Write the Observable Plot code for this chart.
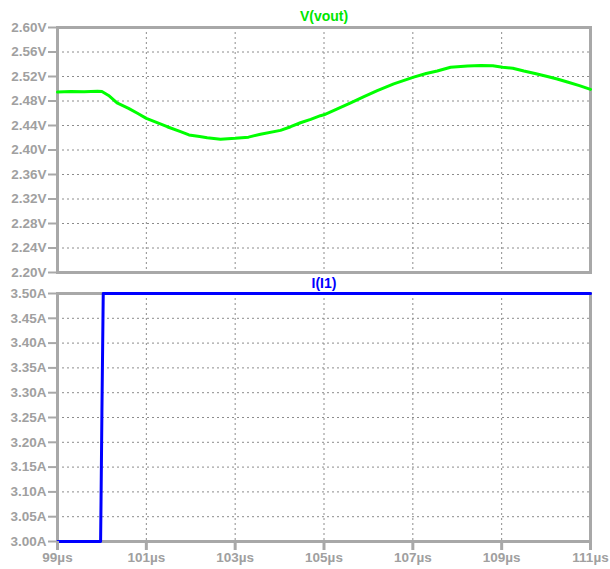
<!DOCTYPE html>
<html>
<head>
<meta charset="utf-8">
<script src="https://cdn.jsdelivr.net/npm/d3@7"></script>
<script src="https://cdn.jsdelivr.net/npm/@observablehq/plot@0.6"></script>
<style>
  html, body { margin: 0; padding: 0; background: #fff; }
  #chart { width: 610px; }
  #chart svg { display: block; }
</style>
</head>
<body>
<div id="chart"></div>
<script>
// Time axis ticks (µs)
const xTicks = [99, 101, 103, 105, 107, 109, 111];
// V(vout) series
const tV = [99.0, 99.3, 99.6, 99.9, 100.0, 100.15, 100.34, 100.6, 100.8, 101.0, 101.2, 101.47, 101.77, 101.96, 102.2, 102.37, 102.67, 103.0, 103.3, 103.57, 104.02, 104.25, 104.47, 104.7, 104.92, 105.0, 105.3, 105.6, 105.9, 106.2, 106.57, 107.02, 107.3, 107.55, 107.85, 108.23, 108.53, 108.8, 109.02, 109.25, 109.5, 109.75, 110.03, 110.25, 110.48, 110.75, 111.0];
const vV = [2.4945, 2.4955, 2.4950, 2.4960, 2.4955, 2.4890, 2.4768, 2.4680, 2.4600, 2.4516, 2.4460, 2.4380, 2.4300, 2.4246, 2.4220, 2.4200, 2.4175, 2.4190, 2.4210, 2.4258, 2.4320, 2.4380, 2.4445, 2.4500, 2.4560, 2.4575, 2.4670, 2.4770, 2.4870, 2.4970, 2.5080, 2.5190, 2.5250, 2.5290, 2.5350, 2.5370, 2.5380, 2.5375, 2.5350, 2.5335, 2.5290, 2.5250, 2.5200, 2.5160, 2.5110, 2.5050, 2.4990];
const vTicks = [2.20, 2.24, 2.28, 2.32, 2.36, 2.40, 2.44, 2.48, 2.52, 2.56, 2.60];
// I(I1) series
const tI = [99.0, 99.97, 99.98, 100.0, 100.03, 111.0];
const iI = [3.00, 3.00, 3.08, 3.26, 3.50, 3.50];
const iTicks = [3.00, 3.05, 3.10, 3.15, 3.20, 3.25, 3.30, 3.35, 3.40, 3.45, 3.50];

const vData = tV.map((t, i) => ({t, v: vV[i]}));
const iData = tI.map((t, i) => ({t, v: iI[i]}));

const axisGray = "#a8a8a8";
const textGray = "#a0a0a0";
const gridGray = "#8c8c8c";
const font = "Liberation Sans, Arial, sans-serif";

const common = {
  width: 610,
  marginLeft: 57,
  marginRight: 20,
  style: {fontFamily: font, background: "#fff", overflow: "visible"}
};

const topPlot = Plot.plot({
  ...common,
  height: 274,
  marginTop: 27,
  marginBottom: 2,
  x: {domain: [99, 111], axis: null},
  y: {domain: [2.2, 2.6], axis: null},
  marks: [
    Plot.gridX(xTicks, {stroke: gridGray, strokeOpacity: 1, strokeDasharray: "2,3"}),
    Plot.gridY(vTicks, {stroke: gridGray, strokeOpacity: 1, strokeDasharray: "2,3"}),
    Plot.frame({stroke: axisGray, strokeWidth: 3}),
    Plot.line(vData, {x: "t", y: "v", stroke: "#00ff00", strokeWidth: 3}),
    Plot.axisY(vTicks, {
      label: null, tickSize: 9, tickPadding: 2, color: textGray, stroke: axisGray, strokeWidth: 2,
      tickFormat: d => d.toFixed(2) + "V", fontSize: 13.5, fontWeight: "bold"
    }),
    Plot.text(["V(vout)"], {frameAnchor: "top", lineAnchor: "middle", dy: -11, fill: "#00e600", fontSize: 14, fontWeight: "bold"})
  ]
});

const bottomPlot = Plot.plot({
  ...common,
  height: 295,
  marginTop: 19,
  marginBottom: 28,
  x: {domain: [99, 111], axis: null},
  y: {domain: [3.0, 3.5], axis: null},
  marks: [
    Plot.gridX(xTicks, {stroke: gridGray, strokeOpacity: 1, strokeDasharray: "2,3"}),
    Plot.gridY(iTicks, {stroke: gridGray, strokeOpacity: 1, strokeDasharray: "2,3"}),
    Plot.frame({stroke: axisGray, strokeWidth: 3}),
    Plot.line(iData, {x: "t", y: "v", stroke: "#0000ff", strokeWidth: 3}),
    Plot.axisY(iTicks, {
      label: null, tickSize: 9, tickPadding: 2, color: textGray, stroke: axisGray, strokeWidth: 2,
      tickFormat: d => d.toFixed(2) + "A", fontSize: 13.5, fontWeight: "bold"
    }),
    Plot.axisX(xTicks, {
      label: null, tickSize: 9, tickPadding: 2, color: textGray, stroke: axisGray, strokeWidth: 3,
      tickFormat: d => d + "µs", fontSize: 13.5, fontWeight: "bold"
    }),
    Plot.text(["I(I1)"], {frameAnchor: "top", lineAnchor: "middle", dy: -10, fill: "#0000ff", fontSize: 14, fontWeight: "bold"})
  ]
});

const el = document.getElementById("chart");
el.append(topPlot, bottomPlot);
</script>
</body>
</html>
